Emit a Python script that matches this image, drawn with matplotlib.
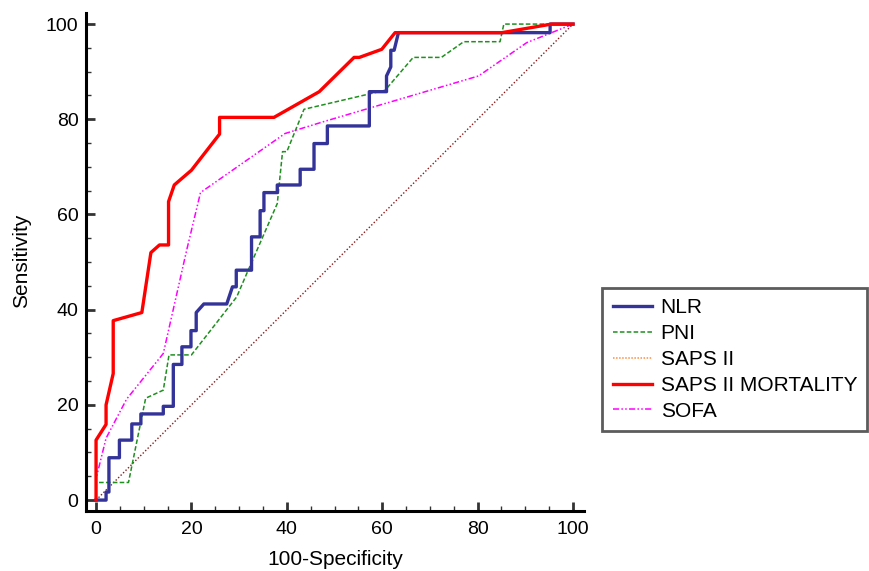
import matplotlib.pyplot as plt
from matplotlib.ticker import MultipleLocator

plt.rcParams['font.family'] = ['Liberation Sans', 'DejaVu Sans']

# ROC curves (x = 100-Specificity, y = Sensitivity)
nlr_x = [0, 2.1, 2.1, 2.7, 2.7, 4.9, 4.9, 7.5, 7.5, 9.4, 9.4, 14.1, 14.1, 16.2, 16.2,
         18.0, 18.0, 19.9, 19.9, 21.0, 21.0, 22.6, 27.4, 28.6, 29.4, 29.4, 32.6, 32.6,
         34.4, 34.4, 35.2, 35.2, 38.0, 38.0, 42.8, 42.8, 45.7, 45.7, 48.5, 48.5, 57.3,
         57.3, 60.9, 60.9, 61.8, 61.8, 62.5, 63.4, 95.2, 95.2, 100]
nlr_y = [0, 0, 1.7, 1.7, 8.9, 8.9, 12.6, 12.6, 16.0, 16.0, 18.1, 18.1, 19.7, 19.7, 28.5,
         28.5, 32.2, 32.2, 35.6, 35.6, 39.4, 41.2, 41.2, 44.8, 44.8, 48.3, 48.3, 55.3,
         55.3, 60.8, 60.8, 64.6, 64.6, 66.2, 66.2, 69.5, 69.5, 74.9, 74.9, 78.6, 78.6,
         85.8, 85.8, 89.1, 91.0, 94.5, 94.5, 98.2, 98.2, 100, 100]

pni_x = [0, 0, 6.8, 10.4, 14.1, 15.3, 20.0, 29.5, 31.9, 33.0, 38.0, 39.1, 40.0, 43.6,
         60.6, 66.5, 72.4, 77.1, 84.7, 85.5, 100]
pni_y = [0, 3.7, 3.7, 21.4, 23.1, 30.5, 30.5, 42.7, 48.3, 50.8, 62.3, 73.2, 73.2, 82.1,
         86.1, 93.0, 93.0, 96.3, 96.3, 100, 100]

saps_x = [0, 0, 2.1, 2.1, 3.6, 3.6, 9.6, 11.5, 13.3, 15.2, 15.2, 16.4, 20.0, 25.9, 25.9,
          37.3, 46.8, 54.1, 55.2, 59.9, 62.7, 85.1, 95.5, 100]
saps_y = [0, 12.6, 15.9, 20.0, 26.6, 37.7, 39.4, 52.0, 53.6, 53.6, 62.7, 66.2, 69.3, 76.9,
          80.4, 80.4, 85.8, 93.0, 93.0, 94.7, 98.2, 98.2, 100, 100]

sofa_x = [0, 0, 2.1, 6.4, 14.1, 19.0, 21.9, 39.6, 47.7, 80.2, 90.3, 100]
sofa_y = [0, 4.5, 13.0, 21.2, 30.8, 52.5, 64.6, 77.0, 79.5, 89.1, 96.1, 100]

fig = plt.figure(figsize=(8.69, 5.71), dpi=100)
ax = fig.add_axes([0.099, 0.105, 0.573, 0.872])

ax.plot([0, 100], [0, 100], color='#8b1a1a', lw=1, ls=(0, (1, 1.5)), zorder=1)
ax.plot(nlr_x, nlr_y, color='#333399', lw=2.4, label='NLR', zorder=3)
ax.plot(pni_x, pni_y, color='#1f8f1f', lw=1.1, ls=(0, (3, 1.5)), label='PNI', zorder=2)
ax.plot(saps_x, saps_y, color='#ff8c40', lw=1.1, ls=(0, (1, 1)), label='SAPS II', zorder=2)
ax.plot(saps_x, saps_y, color='#ff0000', lw=2.4, label='SAPS II MORTALITY', zorder=4)
ax.plot(sofa_x, sofa_y, color='#ff00ff', lw=1.1, ls=(0, (4, 1.5, 1, 1.5, 1, 1.5)),
        label='SOFA', zorder=2)

ax.set_xlim(-2.1, 102.3)
ax.set_ylim(-2.3, 102.3)
ax.xaxis.set_major_locator(MultipleLocator(20))
ax.xaxis.set_minor_locator(MultipleLocator(5))
ax.yaxis.set_major_locator(MultipleLocator(20))
ax.yaxis.set_minor_locator(MultipleLocator(5))
ax.tick_params(which='major', direction='in', length=6.5, width=2, color='#333333',
               labelsize=14)
ax.tick_params(which='minor', direction='in', length=3.5, width=1, color='#333333')
ax.tick_params(axis='x', which='major', pad=7.5)
ax.tick_params(axis='y', which='major', pad=5.5)

for s in ['top', 'right']:
    ax.spines[s].set_visible(False)
for s in ['left', 'bottom']:
    ax.spines[s].set_linewidth(2.2)

ax.set_xlabel('100-Specificity', fontsize=15)
ax.set_ylabel('Sensitivity', fontsize=15)
ax.xaxis.set_label_coords(0.5, -0.098)
ax.xaxis.label.set_va('center')
ax.yaxis.set_label_coords(-0.1285, 0.502)
ax.yaxis.label.set_va('center')

leg = ax.legend(loc='upper left', bbox_to_anchor=(0.693, 0.496),
                bbox_transform=fig.transFigure, fontsize=15, frameon=True,
                fancybox=False, edgecolor='#333333', handlelength=1.9,
                labelspacing=0.33, borderpad=0.5, handletextpad=0.4,
                borderaxespad=0)
leg.get_frame().set_linewidth(2)

fig.savefig('out.png', dpi=100)
